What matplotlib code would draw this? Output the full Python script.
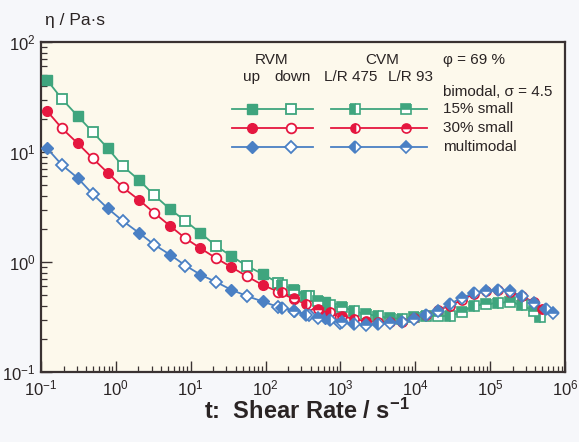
import numpy as np
import matplotlib.pyplot as plt
from matplotlib.ticker import LogLocator, NullFormatter

plt.rcParams['font.family'] = ['Liberation Sans', 'DejaVu Sans']
plt.rcParams['mathtext.fontset'] = 'custom'
plt.rcParams['mathtext.rm'] = 'Liberation Sans'
plt.rcParams['mathtext.it'] = 'Liberation Sans:italic'
plt.rcParams['mathtext.bf'] = 'Liberation Sans:bold'

# log10 of shear rate / viscosity
# RVM: up and down points alternate (up first)
rvm_logx = [-0.92, -0.72, -0.51, -0.31, -0.11, 0.09, 0.31, 0.51, 0.72, 0.93,
            1.13, 1.34, 1.54, 1.75, 1.96, 2.17, 2.38, 2.58, 2.79, 2.99]
green_rvm = [1.655, 1.482, 1.327, 1.182, 1.036, 0.873, 0.745, 0.609, 0.482, 0.373,
             0.264, 0.145, 0.055, -0.036, -0.109, -0.191, -0.255, -0.309, -0.364, -0.427]
red_rvm = [1.373, 1.215, 1.079, 0.943, 0.812, 0.679, 0.564, 0.448, 0.330, 0.215,
           0.125, 0.034, -0.045, -0.130, -0.209, -0.270, -0.338, -0.391, -0.452, -0.497]
blue_rvm = [1.034, 0.882, 0.764, 0.618, 0.488, 0.375, 0.264, 0.159, 0.068, -0.032,
            -0.115, -0.182, -0.252, -0.309, -0.359, -0.409, -0.441, -0.482, -0.512, -0.557]

# CVM: L/R 475 and L/R 93 points alternate (L/R 475 first)
cvm_logx = [2.22, 2.38, 2.54, 2.70, 2.86, 3.02, 3.18, 3.34, 3.50, 3.66, 3.82, 3.98,
            4.14, 4.30, 4.46, 4.62, 4.78, 4.94, 5.10, 5.26, 5.42, 5.58, 5.75, 5.84]
green_cvm = [-0.209, -0.255, -0.309, -0.355, -0.391, -0.409, -0.445, -0.473, -0.491, -0.509,
             -0.518, -0.500, -0.491, -0.491, -0.491, -0.455, -0.400, -0.382, -0.373, -0.364,
             -0.391, -0.445, -0.500]
red_cvm = [-0.273, -0.327, -0.382, -0.427, -0.455, -0.491, -0.518, -0.536, -0.545, -0.545,
           -0.545, -0.509, -0.482, -0.436, -0.400, -0.345, -0.291, -0.264, -0.255, -0.273,
           -0.309, -0.364, -0.427]
blue_cvm = [-0.418, -0.445, -0.482, -0.509, -0.527, -0.545, -0.564, -0.573, -0.564, -0.555,
            -0.545, -0.518, -0.482, -0.445, -0.382, -0.327, -0.282, -0.264, -0.255, -0.264,
            -0.309, -0.373, -0.427, -0.464]
# the last CVM point of green and red sits a little left of the grid
cvm_last_logx = {'15% small': 5.67, '30% small': 5.69}

green = '#3fa57e'
red = '#e5173f'
blue = '#4a80c4'
series = [
    (green, 's', green_rvm, green_cvm, '15% small'),
    (red, 'o', red_rvm, red_cvm, '30% small'),
    (blue, 'D', blue_rvm, blue_cvm, 'multimodal'),
]

fig = plt.figure(figsize=(5.79, 4.42), dpi=100, facecolor='#f6f7fa')
ax = fig.add_axes([41 / 579, 70 / 442, 524 / 579, 330 / 442])
ax.set_facecolor('#fdf9ec')

for color, mk, rvm, cvm, name in series:
    ms = 7 if mk != 'D' else 6.5
    x = 10.0 ** np.array(rvm_logx)
    y = 10.0 ** np.array(rvm)
    ax.plot(x, y, color=color, lw=1.3, zorder=2)
    ax.plot(x[0::2], y[0::2], ls='none', marker=mk, ms=ms, color=color, zorder=3)
    ax.plot(x[1::2], y[1::2], ls='none', marker=mk, ms=ms, mfc='white',
            mec=color, mew=1.3, zorder=3)

    n = len(cvm)
    cx = 10.0 ** np.array(cvm_logx[:n])
    if name in cvm_last_logx:
        cx[-1] = 10.0 ** cvm_last_logx[name]
    cy = 10.0 ** np.array(cvm)
    ax.plot(cx, cy, color=color, lw=1.3, zorder=2)
    ax.plot(cx[0::2], cy[0::2], ls='none', marker=mk, ms=ms - 0.5, color=color,
            fillstyle='left', markerfacecoloralt='white', mec=color, mew=1.2, zorder=4)
    ax.plot(cx[1::2], cy[1::2], ls='none', marker=mk, ms=ms - 0.5, color=color,
            fillstyle='top', markerfacecoloralt='white', mec=color, mew=1.2, zorder=4)

ax.set_xscale('log')
ax.set_yscale('log')
ax.set_xlim(0.1, 1e6)
ax.set_ylim(0.1, 100)

ax.set_xticks(10.0 ** np.arange(-1, 7))
ax.set_xticklabels(['$10^{%d}$' % e for e in range(-1, 7)])
ax.set_yticks(10.0 ** np.arange(-1, 3))
ax.set_yticklabels(['$10^{%d}$' % e for e in range(-1, 3)])
ax.xaxis.set_minor_locator(LogLocator(base=10, subs=np.arange(2, 10), numticks=20))
ax.yaxis.set_minor_locator(LogLocator(base=10, subs=np.arange(2, 10), numticks=20))
ax.xaxis.set_minor_formatter(NullFormatter())
ax.yaxis.set_minor_formatter(NullFormatter())
ax.tick_params(which='both', direction='in', top=False, right=False,
               color='#3a3232', labelcolor='#2a2424')
ax.tick_params(which='major', length=8, width=1.0, labelsize=12)
ax.tick_params(axis='x', which='major', pad=5)
ax.tick_params(axis='y', which='major', pad=4)
ax.tick_params(which='minor', length=4, width=0.9)
for s in ax.spines.values():
    s.set_color('#3a3232')
    s.set_linewidth(1.6)

fig.text(45 / 579, 1 - 20 / 442, '\u03b7 / Pa\u00b7s', fontsize=12.5,
         color='#2a2424', va='center', ha='left')
fig.text(307 / 579, 1 - 411 / 442, 't:  Shear Rate / s$^{\\mathbf{-1}}$', fontsize=17,
         fontweight='bold', color='#2a2424', ha='center', va='center')


# legend drawn in pixel coordinates of the figure
def P(px, py):
    return px / 579, 1 - py / 442


tc = '#2a2424'
fs = 11
for txt, px, py, ha in [('RVM', 272, 60, 'center'), ('CVM', 382, 60, 'center'),
                        ('up', 251, 77, 'center'), ('down', 293, 77, 'center'),
                        ('L/R 475', 351, 77, 'center'), ('L/R 93', 410, 77, 'center'),
                        ('\u03c6 = 69 %', 443, 60, 'left'),
                        ('bimodal, \u03c3 = 4.5', 443, 92, 'left')]:
    fig.text(*P(px, py), txt, fontsize=fs, color=tc, ha=ha, va='center')

for i, (color, mk, rvm, cvm, name) in enumerate(series):
    py = 109 + 18.8 * i
    ms = 7 if mk != 'D' else 6.5
    x0, y0 = P(232, py)
    x1, _ = P(313, py)
    ax.plot([x0, x1], [y0, y0], color=color, lw=1.3, transform=fig.transFigure, clip_on=False)
    ax.plot([P(252, py)[0]], [y0], marker=mk, ms=ms, color=color,
            transform=fig.transFigure, clip_on=False)
    ax.plot([P(291, py)[0]], [y0], marker=mk, ms=ms, mfc='white', mec=color, mew=1.3,
            transform=fig.transFigure, clip_on=False)
    x2, _ = P(331, py)
    x3, _ = P(427, py)
    ax.plot([x2, x3], [y0, y0], color=color, lw=1.3, transform=fig.transFigure, clip_on=False)
    ax.plot([P(355, py)[0]], [y0], marker=mk, ms=ms - 0.5, color=color, fillstyle='left',
            markerfacecoloralt='white', mec=color, mew=1.2,
            transform=fig.transFigure, clip_on=False)
    ax.plot([P(406, py)[0]], [y0], marker=mk, ms=ms - 0.5, color=color, fillstyle='top',
            markerfacecoloralt='white', mec=color, mew=1.2,
            transform=fig.transFigure, clip_on=False)
    fig.text(*P(443, py), name, fontsize=fs, color=tc, ha='left', va='center')

plt.savefig('out.png', dpi=100, facecolor=fig.get_facecolor())
